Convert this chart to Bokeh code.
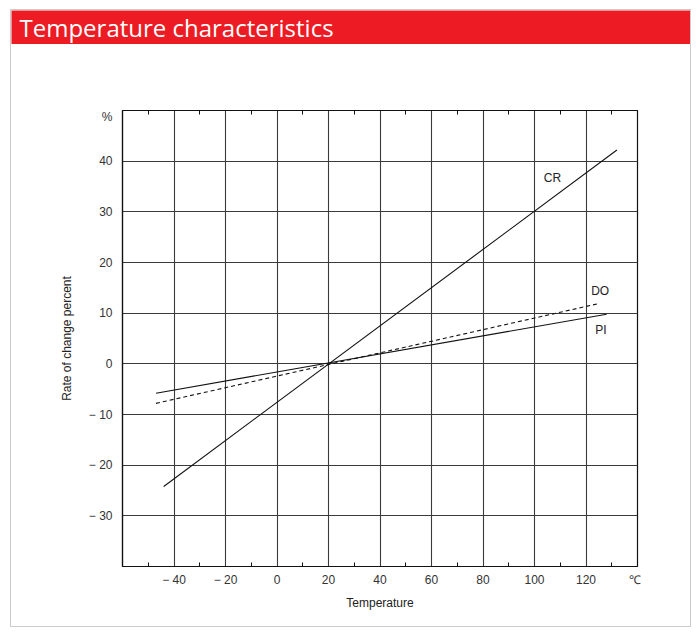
from bokeh.plotting import figure
from bokeh.models import FixedTicker, LinearAxis, Range1d
from bokeh.layouts import column
from bokeh.embed import file_html
from bokeh.resources import INLINE
from bokeh.core.properties import value

# ---------------- data ----------------
title_text = "Temperature characteristics"
x_title = "Temperature"
y_title = "Rate of change percent"
x_unit = "℃"
y_unit = "%"

x_ticks = [-40, -20, 0, 20, 40, 60, 80, 100, 120]
x_tick_labels = ["− 40", "− 20", "0", "20", "40", "60", "80", "100", "120"]
x_minor = [-50, -30, -10, 10, 30, 50, 70, 90, 110, 130]
y_ticks = [-30, -20, -10, 0, 10, 20, 30, 40]
y_tick_labels = ["− 30", "− 20", "− 10", "0", "10", "20", "30", "40"]
x_unit_at = 139
y_unit_at = 48.7

cr_temp = [-44, 132]
cr_rate = [-24.2, 42.2]
do_temp = [-47, 125]
do_rate = [-7.8, 11.9]
pi_temp = [-47, 128]
pi_rate = [-5.8, 9.8]

series_names = ["CR", "DO", "PI"]
name_temp = [107, 125.5, 125.8]
name_rate = [36.6, 14.3, 6.7]

# ---------------- layout ----------------
W = 679
FONT = "Liberation Sans"
INK = "#111111"
GRID = "#3a3a3a"
RED = "#ED1C24"

t = figure(frame_width=W, frame_height=34, x_range=Range1d(0, 1), y_range=Range1d(0, 1),
           toolbar_location=None, output_backend="svg", min_border=0,
           x_axis_location=None, y_axis_location=None,
           background_fill_color=RED, border_fill_color=RED,
           outline_line_color=None)
t.frame_align = False
t.grid.visible = False
t.text(x=[0], y=[0.5], text=[title_text], x_offset=8,
       text_baseline="middle", text_align="left", text_color="white",
       text_font=value("Open Sans"), text_font_size="24px")

p = figure(frame_width=515, frame_height=456, x_range=Range1d(-60, 140), y_range=Range1d(-40, 50),
           toolbar_location=None, output_backend="svg",
           min_border_left=111, min_border_right=53, min_border_top=66, min_border_bottom=60,
           x_axis_location=None, y_axis_location=None,
           outline_line_color=INK, outline_line_width=1.2,
           background_fill_color="white", border_fill_color="white")
p.frame_align = False

p.xgrid.ticker = FixedTicker(ticks=x_ticks)
p.ygrid.ticker = FixedTicker(ticks=y_ticks)
for g in p.grid:
    g.grid_line_color = GRID
    g.grid_line_width = 1.1

xb_labels = {v: s for v, s in zip(x_ticks, x_tick_labels)}
xb_labels[x_unit_at] = x_unit
yl_labels = {v: s for v, s in zip(y_ticks, y_tick_labels)}
yl_labels[y_unit_at] = y_unit

xb = LinearAxis(ticker=FixedTicker(ticks=x_ticks + [x_unit_at], minor_ticks=x_minor),
                major_label_overrides=xb_labels, axis_label=x_title)
xt = LinearAxis(ticker=FixedTicker(ticks=[], minor_ticks=x_minor))
yl = LinearAxis(ticker=FixedTicker(ticks=y_ticks + [y_unit_at]),
                major_label_overrides=yl_labels, axis_label=y_title)
for ax in (xb, xt, yl):
    ax.axis_line_color = INK
    ax.axis_line_width = 1.2
    ax.major_tick_in = 0
    ax.major_tick_out = 0
    ax.minor_tick_in = 4
    ax.minor_tick_out = 0
    ax.minor_tick_line_color = INK
    ax.major_label_text_font = FONT
    ax.major_label_text_font_size = "12px"
    ax.major_label_text_color = "#333333"
    ax.axis_label_text_font = FONT
    ax.axis_label_text_font_size = "12px"
    ax.axis_label_text_font_style = "normal"
    ax.axis_label_text_color = "#222222"
xb.major_label_standoff = 6
xb.axis_label_standoff = 6
yl.major_label_standoff = 10
yl.axis_label_standoff = 12
p.add_layout(xb, "below")
p.add_layout(xt, "above")
p.add_layout(yl, "left")

p.line(cr_temp, cr_rate, line_color=INK, line_width=1.1)
p.line(do_temp, do_rate, line_color=INK, line_width=1.1, line_dash="4 3")
p.line(pi_temp, pi_rate, line_color=INK, line_width=1.1)
p.text(x=name_temp, y=name_rate, text=series_names, text_align="center",
       text_baseline="middle", text_font=value(FONT), text_font_size="12px",
       text_color="#222222")

layout = column(t, p, margin=(9, 0, 0, 10), styles={"border": "1px solid #cccccc"})

open("out.html", "w").write(file_html(layout, INLINE))
